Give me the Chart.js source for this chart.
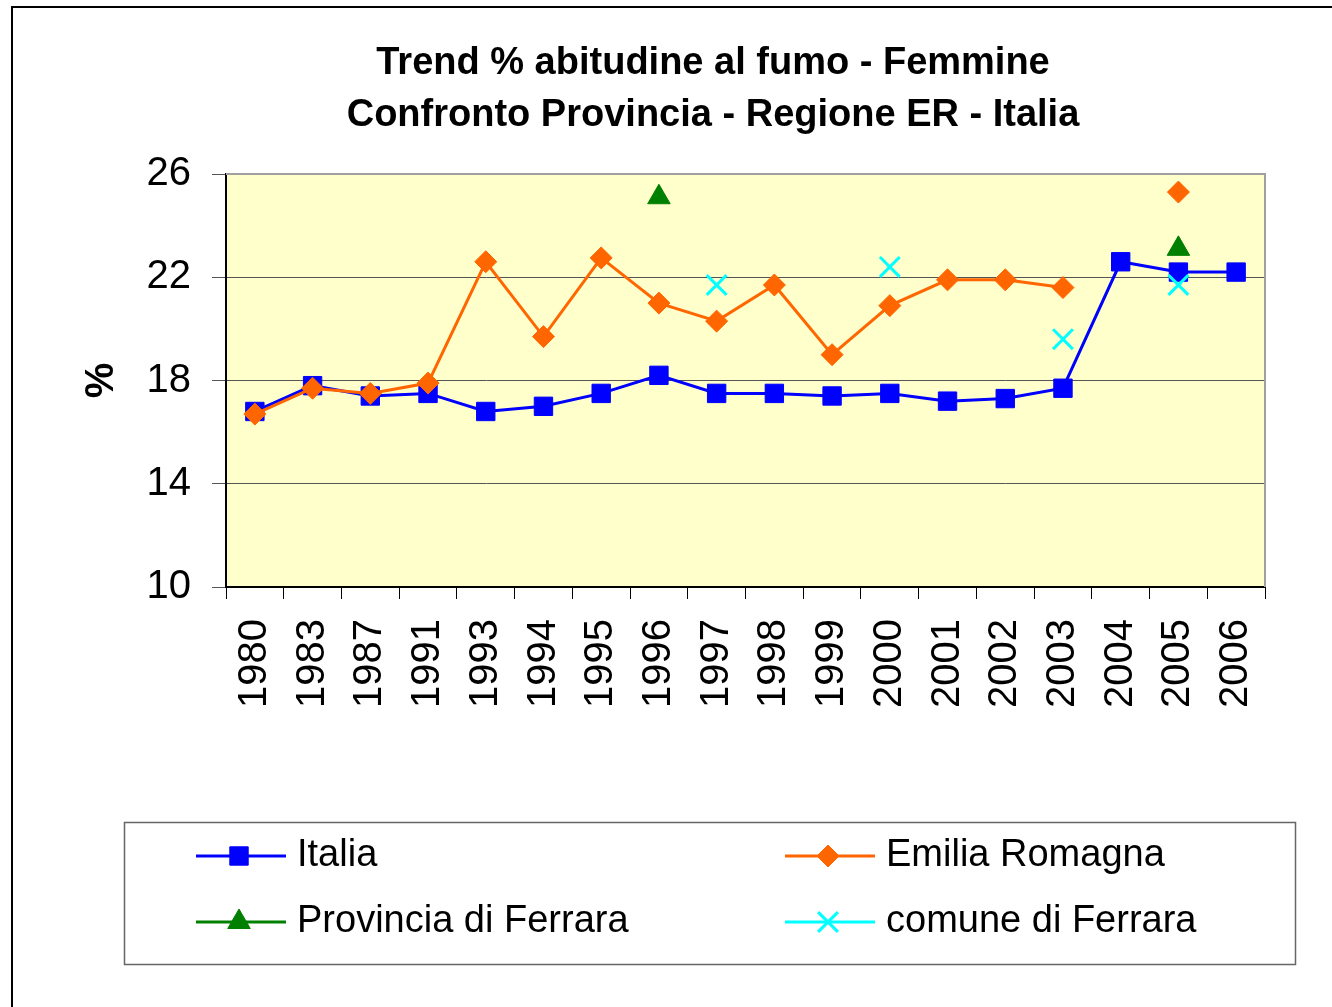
<!DOCTYPE html>
<html>
<head>
<meta charset="utf-8">
<title>Trend % abitudine al fumo - Femmine</title>
<script src="https://cdn.jsdelivr.net/npm/chart.js@4/dist/chart.umd.min.js"></script>
<style>
  html, body { margin: 0; padding: 0; background: #fff; }
  #chart { display: block; }
</style>
</head>
<body>
<canvas id="chart" width="1332" height="1007"></canvas>
<script>
// dati
const years = ["1980", "1983", "1987", "1991", "1993", "1994", "1995", "1996", "1997",
  "1998", "1999", "2000", "2001", "2002", "2003", "2004", "2005", "2006"];
const italia = [16.8, 17.8, 17.4, 17.5, 16.8, 17.0, 17.5, 18.2, 17.5,
  17.5, 17.4, 17.5, 17.2, 17.3, 17.7, 22.6, 22.2, 22.2];
const emiliaRomagna = [16.7, 17.7, 17.5, 17.9, 22.6, 19.7, 22.75, 21.0, 20.3,
  21.7, 19.0, 20.9, 21.9, 21.9, 21.6, null, 25.3, null];
const provinciaFerrara = [null, null, null, null, null, null, null, 25.1, null,
  null, null, null, null, null, null, null, 23.1, null];
const comuneFerrara = [null, null, null, null, null, null, null, null, 21.7,
  null, null, 22.4, null, null, 19.6, null, 21.7, null];
const yMin = 10;
const yMax = 26;
const yStep = 4;

const titleLines = ["Trend % abitudine al fumo - Femmine", "Confronto Provincia - Regione ER - Italia"];
const FONT = "'Liberation Sans', Arial, sans-serif";

// sfondo giallo, cornice, titolo e legenda
const decorPlugin = {
  id: "decor",
  beforeDatasetsDraw(chart) {
    const { ctx, chartArea: a } = chart;
    ctx.save();
    ctx.strokeStyle = "#a0a0a0";
    ctx.lineWidth = 2;
    ctx.beginPath();
    ctx.moveTo(a.left, a.top);
    ctx.lineTo(a.right, a.top);
    ctx.lineTo(a.right, a.bottom);
    ctx.stroke();
    ctx.restore();
  },
  beforeDraw(chart) {
    const { ctx, chartArea: a } = chart;
    ctx.save();
    ctx.fillStyle = "#ffffff";
    ctx.fillRect(0, 0, chart.width, chart.height);
    ctx.fillStyle = "#ffffcc";
    ctx.fillRect(a.left, a.top, a.right - a.left, a.bottom - a.top);
    // cornice esterna
    ctx.strokeStyle = "#000";
    ctx.lineWidth = 2;
    ctx.beginPath();
    ctx.moveTo(12, chart.height);
    ctx.lineTo(12, 7);
    ctx.lineTo(chart.width, 7);
    ctx.stroke();
    ctx.restore();
  },
  afterDraw(chart) {
    const { ctx } = chart;
    ctx.save();
    // titolo
    ctx.fillStyle = "#000";
    ctx.font = "bold 38px " + FONT;
    ctx.textAlign = "center";
    ctx.textBaseline = "middle";
    titleLines.forEach((t, i) => ctx.fillText(t, 713, 64 + i * 52));

    // legenda
    ctx.strokeStyle = "#666";
    ctx.lineWidth = 1.5;
    ctx.strokeRect(124.5, 822.5, 1171, 142);
    const cols = [196, 785];
    const rows = [856, 922];
    chart.data.datasets.forEach((ds, i) => {
      const x0 = cols[i % 2];
      const y = rows[Math.floor(i / 2)];
      ctx.strokeStyle = ds.pointBorderColor;
      ctx.lineWidth = 3;
      ctx.beginPath();
      ctx.moveTo(x0, y);
      ctx.lineTo(x0 + 90, y);
      ctx.stroke();
      ctx.fillStyle = ds.pointBackgroundColor;
      ctx.strokeStyle = ds.pointBorderColor;
      ctx.lineWidth = ds.pointBorderWidth;
      Chart.helpers.drawPoint(ctx, {
        pointStyle: ds.pointStyle,
        radius: ds.pointRadius,
        borderWidth: ds.pointBorderWidth,
        rotation: 0
      }, x0 + 43, y);
      ctx.fillStyle = "#000";
      ctx.font = "38px " + FONT;
      ctx.textAlign = "left";
      ctx.textBaseline = "middle";
      ctx.fillText(ds.label, x0 + 101, y);
    });
    ctx.restore();
  }
};

new Chart(document.getElementById("chart"), {
  type: "line",
  data: {
    labels: years,
    datasets: [
      {
        label: "Italia",
        data: italia,
        borderColor: "#0000ff",
        borderWidth: 3,
        pointStyle: "rect",
        pointRadius: 13,
        pointBorderWidth: 1,
        pointBackgroundColor: "#0000ff",
        pointBorderColor: "#0000ff",
        order: 3
      },
      {
        label: "Emilia Romagna",
        data: emiliaRomagna,
        borderColor: "#ff6600",
        borderWidth: 3,
        spanGaps: false,
        pointStyle: "rectRot",
        pointRadius: 11,
        pointBorderWidth: 1,
        pointBackgroundColor: "#ff6600",
        pointBorderColor: "#ff6600",
        order: 2
      },
      {
        label: "Provincia di Ferrara",
        data: provinciaFerrara,
        showLine: false,
        borderColor: "#008000",
        pointStyle: "triangle",
        pointRadius: 13,
        pointBorderWidth: 1,
        pointBackgroundColor: "#008000",
        pointBorderColor: "#008000",
        order: 1
      },
      {
        label: "comune di Ferrara",
        data: comuneFerrara,
        showLine: false,
        borderColor: "#00ffff",
        pointStyle: "crossRot",
        pointRadius: 14,
        pointBorderWidth: 3,
        pointBackgroundColor: "#00ffff",
        pointBorderColor: "#00ffff",
        order: 0
      }
    ]
  },
  options: {
    responsive: false,
    animation: false,
    layout: { padding: { top: 174, right: 67, bottom: 280, left: 0 } },
    plugins: {
      legend: { display: false },
      title: { display: false },
      tooltip: { enabled: false }
    },
    scales: {
      x: {
        type: "category",
        offset: true,
        afterFit: (s) => { s.height = 140; },
        grid: {
          offset: true,
          drawOnChartArea: false,
          drawTicks: true,
          tickLength: 12,
          color: "#000",
          lineWidth: 1
        },
        border: { display: true, color: "#000", width: 2 },
        ticks: {
          color: "#000",
          font: { family: FONT, size: 40 },
          minRotation: 90,
          maxRotation: 90,
          autoSkip: false,
          padding: 20
        }
      },
      y: {
        min: yMin,
        max: yMax,
        afterFit: (s) => { s.width = 226; },
        grid: {
          color: "#555",
          lineWidth: 1,
          tickLength: 14
        },
        border: { display: true, color: "#000", width: 2 },
        ticks: {
          stepSize: yStep,
          color: "#000",
          font: { family: FONT, size: 40 },
          padding: 21
        },
        title: {
          display: true,
          text: "%",
          color: "#000",
          font: { family: FONT, size: 40, weight: "bold" },
          padding: { top: 78, bottom: 0 }
        }
      }
    }
  },
  plugins: [decorPlugin]
});
</script>
</body>
</html>
